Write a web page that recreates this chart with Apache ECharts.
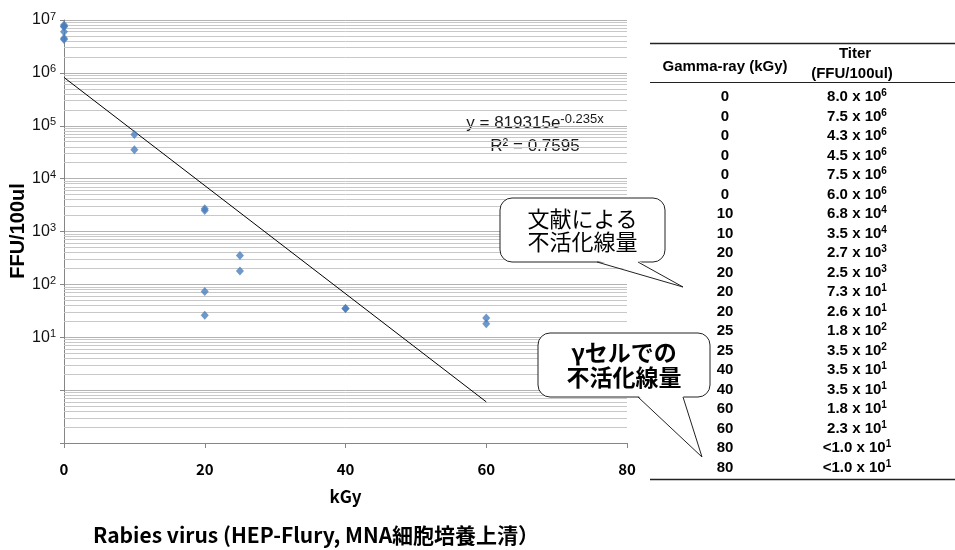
<!DOCTYPE html>
<html>
<head>
<meta charset="utf-8">
<script src="https://cdn.jsdelivr.net/npm/echarts@6/dist/echarts.min.js"></script>
<style>
  html, body { margin: 0; padding: 0; background: #fff; }
  #main { width: 955px; height: 550px; }
</style>
</head>
<body>
<div id="main"></div>
<script>
const doses = [0, 0, 0, 0, 0, 0, 10, 10, 20, 20, 20, 20, 25, 25, 40, 40, 60, 60, 80, 80];
const titers = [8.0e6, 7.5e6, 4.3e6, 4.5e6, 7.5e6, 6.0e6, 6.8e4, 3.5e4, 2.7e3, 2.5e3,
                7.3e1, 2.6e1, 1.8e2, 3.5e2, 3.5e1, 3.5e1, 1.8e1, 2.3e1, 1.0e1, 1.0e1];
const belowLimit = [false, false, false, false, false, false, false, false, false, false,
                    false, false, false, false, false, false, false, false, true, true];
// exponential trend line end points (straight in log space)
const trendX = [0, 60];
const trendY = [819315, 0.6];
const yLabelExps = [1, 2, 3, 4, 5, 6, 7];
const minorSteps = [2, 3, 4, 5, 6, 7, 8, 9];

const JP = '"Noto Sans CJK JP", sans-serif';
const AR = '"Liberation Sans", Arial, sans-serif';

const chart = echarts.init(document.getElementById('main'));

const points = [];
doses.forEach((d, i) => { if (!belowLimit[i]) points.push([d, titers[i]]); });

// minor log grid lines (2..9 within each decade)
const minorLines = [];
for (let e = -1; e < 7; e++) {
  minorSteps.forEach(k => minorLines.push({ yAxis: k * Math.pow(10, e) }));
}

function sup(v) {
  const e = Math.floor(Math.log10(v) + 1e-9);
  return { m: v / Math.pow(10, e), e: e };
}

// table
const tableEls = [];
const rowY0 = 97, rowH = 19.5, colA = 725, colB = 857;
tableEls.push({ type: 'line', shape: { x1: 650, y1: 43.5, x2: 955, y2: 43.5 }, style: { stroke: '#222', lineWidth: 1.5 } });
tableEls.push({ type: 'line', shape: { x1: 650, y1: 82.5, x2: 955, y2: 82.5 }, style: { stroke: '#222', lineWidth: 1 } });
tableEls.push({ type: 'line', shape: { x1: 650, y1: 479.5, x2: 955, y2: 479.5 }, style: { stroke: '#222', lineWidth: 1.5 } });
tableEls.push({ type: 'text', style: { text: 'Gamma-ray (kGy)', x: colA, y: 66.5, align: 'center', verticalAlign: 'middle', font: 'bold 15px ' + AR, fill: '#000' } });
tableEls.push({ type: 'text', style: { text: 'Titer', x: 855, y: 53.5, align: 'center', verticalAlign: 'middle', font: 'bold 15px ' + AR, fill: '#000' } });
tableEls.push({ type: 'text', style: { text: '(FFU/100ul)', x: 852, y: 74, align: 'center', verticalAlign: 'middle', font: 'bold 15px ' + AR, fill: '#000' } });
doses.forEach((d, i) => {
  const y = rowY0 + rowH * i;
  const t = sup(titers[i]);
  tableEls.push({ type: 'text', style: { text: String(d), x: colA, y: y, align: 'center', verticalAlign: 'middle', font: 'bold 15px ' + AR, fill: '#000' } });
  tableEls.push({ type: 'text', style: {
    text: '{b|' + (belowLimit[i] ? '<' : '') + t.m.toFixed(1) + ' x 10}{s|' + t.e + '}',
    x: colB, y: y, align: 'center', verticalAlign: 'middle',
    rich: {
      b: { font: 'bold 15px ' + AR, fill: '#000', lineHeight: 17 },
      s: { font: 'bold 10px ' + AR, fill: '#000', lineHeight: 10, verticalAlign: 'top' }
    }
  } });
});

// speech bubble: rounded box + tail
function bubble(x, y, w, h, t1, t2, tipX, tipY, lines, bold, size, lh) {
  const els = [];
  els.push({ type: 'rect', z: 100, shape: { x: x, y: y, width: w, height: h, r: 12 }, style: { fill: '#fff', stroke: '#222', lineWidth: 1 } });
  els.push({ type: 'polygon', z: 101, shape: { points: [[t1, y + h - 1.5], [tipX, tipY], [t2, y + h - 1.5]] }, style: { fill: '#fff' } });
  els.push({ type: 'polyline', z: 102, shape: { points: [[t1, y + h], [tipX, tipY], [t2, y + h]] }, style: { stroke: '#222', lineWidth: 1, fill: null } });
  const cy = y + h / 2;
  lines.forEach((s, i) => {
    els.push({ type: 'text', z: 103, style: {
      text: s, x: x + w / 2, y: cy + (i - (lines.length - 1) / 2) * lh,
      align: 'center', verticalAlign: 'middle',
      font: (bold ? 'bold ' : '') + size + 'px ' + JP, fill: '#000'
    } });
  });
  return els;
}

const option = {
  animation: false,
  backgroundColor: '#fff',
  grid: { left: 64, top: 20, width: 563, height: 423, containLabel: false, outerBoundsMode: 'none' },
  xAxis: {
    type: 'value', min: 0, max: 80, interval: 20,
    name: 'kGy', nameLocation: 'middle', nameGap: 45,
    nameTextStyle: { fontFamily: JP, fontWeight: 'bold', fontSize: 17, color: '#000' },
    axisLine: { show: true, lineStyle: { color: '#868686', width: 1 } },
    axisTick: { show: true, length: 5, lineStyle: { color: '#868686' } },
    axisLabel: { margin: 19, fontFamily: JP, fontWeight: 'bold', fontSize: 15, color: '#000' },
    splitLine: { show: false }
  },
  yAxis: {
    type: 'log', logBase: 10, min: 0.1, max: 1e7,
    axisLine: { show: true, lineStyle: { color: '#868686', width: 1 } },
    axisTick: { show: true, length: 4, lineStyle: { color: '#868686' } },
    axisLabel: {
      margin: 8,
      formatter: v => {
        const e = Math.round(Math.log10(v));
        return yLabelExps.includes(e) ? '{b|10}{s|' + e + '}' : '';
      },
      rich: {
        b: { fontFamily: AR, fontSize: 16, color: '#111', lineHeight: 18 },
        s: { fontFamily: AR, fontSize: 11, color: '#111', lineHeight: 11, verticalAlign: 'top' }
      }
    },
    splitLine: { show: true, lineStyle: { color: '#b3b3b3', width: 1 } }
  },
  series: [
    {
      type: 'scatter', data: points,
      symbol: 'diamond', symbolSize: [8, 9],
      itemStyle: { color: '#4a7ebb' },
      z: 5,
      markLine: {
        silent: true, symbol: 'none', animation: false,
        label: { show: false },
        lineStyle: { color: '#c8c8c8', width: 1, type: 'solid' },
        data: minorLines,
        z: 1
      }
    },
    {
      type: 'line', data: trendX.map((x, i) => [x, trendY[i]]),
      showSymbol: false, symbol: 'none',
      lineStyle: { color: '#000', width: 1 },
      z: 4
    }
  ],
  graphic: [
    { type: 'text', x: 18.5, y: 231, rotation: Math.PI / 2, style: {
      text: 'FFU/100ul', x: 0, y: 0, align: 'center', verticalAlign: 'middle',
      font: 'bold 20px ' + AR, fill: '#000'
    } },
    { type: 'text', style: {
      text: '{n|y = 819315e}{s|-0.235x}', x: 535, y: 123, align: 'center', verticalAlign: 'middle',
      rich: {
        n: { font: '17px ' + AR, fill: '#1a1a1a', lineHeight: 20 },
        s: { font: '13px ' + AR, fill: '#1a1a1a', lineHeight: 12, verticalAlign: 'top' }
      }
    } },
    { type: 'text', style: { text: 'R² = 0.7595', x: 535, y: 146, align: 'center', verticalAlign: 'middle', font: '17px ' + AR, fill: '#1a1a1a' } },
    { type: 'text', style: { text: 'Rabies virus (HEP-Flury, MNA細胞培養上清）', x: 93, y: 535, align: 'left', verticalAlign: 'middle', font: 'bold 21px ' + JP, fill: '#000' } }
  ]
    .concat(tableEls)
    .concat(bubble(500, 198, 165, 64, 597, 638, 683, 287, ['文献による', '不活化線量'], false, 22, 23.5))
    .concat(bubble(538, 333, 172, 64, 638, 683, 702, 457, ['γセルでの', '不活化線量'], true, 23, 25))
};

chart.setOption(option);
</script>
</body>
</html>
